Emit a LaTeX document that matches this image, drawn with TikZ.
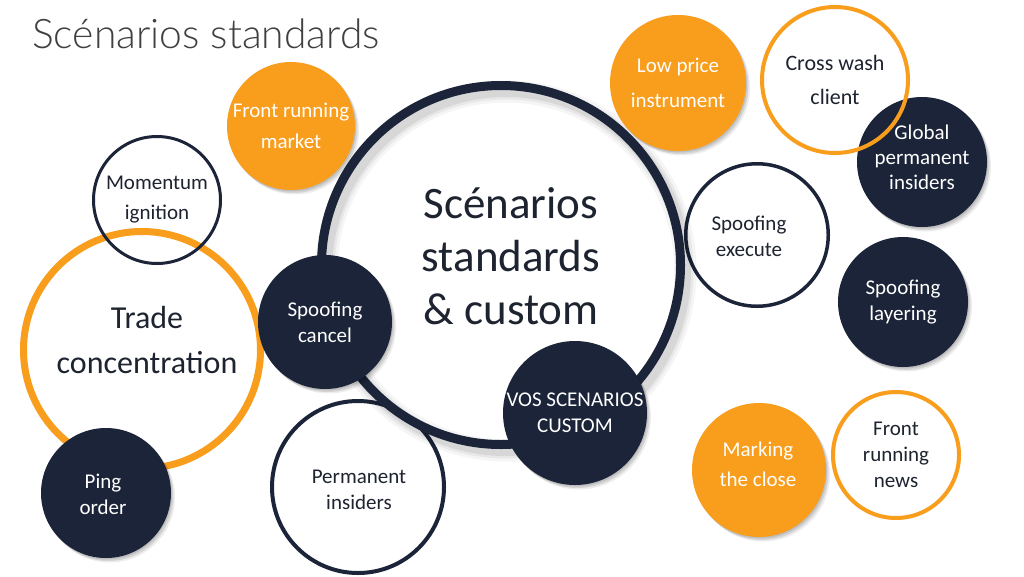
\documentclass[tikz,border=0pt]{standalone}
\usepackage{fontspec}
\setmainfont{Carlito}
\newfontfamily\titlefont{Lato Light}
\usetikzlibrary{shadows}
\definecolor{navy}{HTML}{1B2438}
\definecolor{orng}{HTML}{F89D1C}
\definecolor{titlegray}{HTML}{404040}
\definecolor{darktext}{HTML}{1E2330}
\begin{document}
\begin{tikzpicture}[x=1pt,y=-1pt,
  base/.style={circle, inner sep=0pt, align=center, font=\fontsize{21}{26}\selectfont},
  softshadow/.style={
    drop shadow={shadow xshift=1pt, shadow yshift=-1.5pt, opacity=0.10, fill=black},
    drop shadow={shadow xshift=2.5pt, shadow yshift=-3pt, opacity=0.10, fill=black},
    drop shadow={shadow xshift=4pt, shadow yshift=-4.5pt, opacity=0.07, fill=black}},
  navyfill/.style={base, fill=navy, text=white, softshadow},
  orangefill/.style={base, fill=orng, text=white, softshadow},
  navyring/.style={base, draw=navy, text=darktext},
  orangering/.style={base, draw=orng, text=darktext},
  txt/.style={inner sep=0pt, align=center, text=darktext},
  wtxt/.style={inner sep=0pt, align=center, text=white, font=\fontsize{21}{26}\selectfont}
]
\useasboundingbox (0,0) rectangle (1024,576);
\fill[white] (0,0) rectangle (1024,576);

% title
\node[anchor=base west, inner sep=0pt, text=titlegray, font=\titlefont\fontsize{40.8}{48}\selectfont] (title) at (32,48) {Scénarios standards};

% left group
\node[orangering, line width=7pt, minimum size=237pt] (trade) at (142,350) {};
\node[txt, font=\fontsize{32}{45}\selectfont] (tradetext) at (147,340) {Trade\\concentration};
\node[navyring, line width=3pt, minimum size=127pt] (momentum) at (157,200) {Momentum\\[4pt]ignition};
\node[navyfill, minimum size=130pt] (ping) at (106,493) {};
\node[wtxt] (pingtext) at (103,494) {Ping\\order};
\node[orangefill, minimum size=128pt, font=\fontsize{21}{31}\selectfont] (frm) at (291,126) {Front running\\market};

% circles under the big ring
\node[navyring, fill=white, line width=4pt, minimum size=172pt] (perm) at (358,487) {};
\node[txt, font=\fontsize{21}{26}\selectfont] (permtext) at (359,490) {Permanent\\insiders};
\node[navyring, fill=white, line width=3.5pt, minimum size=142.5pt] (exec) at (757,235) {};
\node[txt, font=\fontsize{21}{26}\selectfont] (exectext) at (749,236) {Spoofing\\execute};

% big circle
\node[circle, fill=white, inner sep=0pt, minimum size=359pt] (big) at (501,265) {};
\foreach \w/\o in {22/0.04,16/0.05,11/0.07} {
  \draw[black, opacity=\o, line width=\w pt] ([shift={(5,6)}]big.center) circle[radius=179.5pt];
}
\draw[navy, line width=9pt] (big.center) circle[radius=179.5pt];
\node[txt, font=\fontsize{45}{53}\selectfont] (bigtext) at (511,256) {Scénarios\\standards\\\& custom};

\node[navyfill, minimum size=134pt] (cancel) at (325,322) {Spoofing\\cancel};
\node[navyfill, minimum size=144pt] (vos) at (575,413) {VOS SCENARIOS\\CUSTOM};

% right group
\node[orangefill, minimum size=136pt, font=\fontsize{21}{35}\selectfont] (low) at (678,83) {Low price\\instrument};
\node[navyfill, minimum size=130pt] (global) at (922,162) {};
\node[wtxt, font=\fontsize{21}{25}\selectfont] (globaltext) at (922,157) {Global\\permanent\\insiders};
\node[orangering, line width=4pt, minimum size=146pt, font=\fontsize{22}{34}\selectfont] (cross) at (835,80) {Cross wash\\client};
\node[navyfill, minimum size=130pt] (layering) at (903,302) {Spoofing\\layering};
\node[orangefill, minimum size=134pt] (marking) at (759,470) {};
\node[wtxt, font=\fontsize{21}{30}\selectfont] (markingtext) at (758,464) {Marking\\the close};
\node[orangering, fill=white, line width=4pt, minimum size=126pt] (news) at (896,455) {Front\\running\\news};
\end{tikzpicture}
\end{document}
